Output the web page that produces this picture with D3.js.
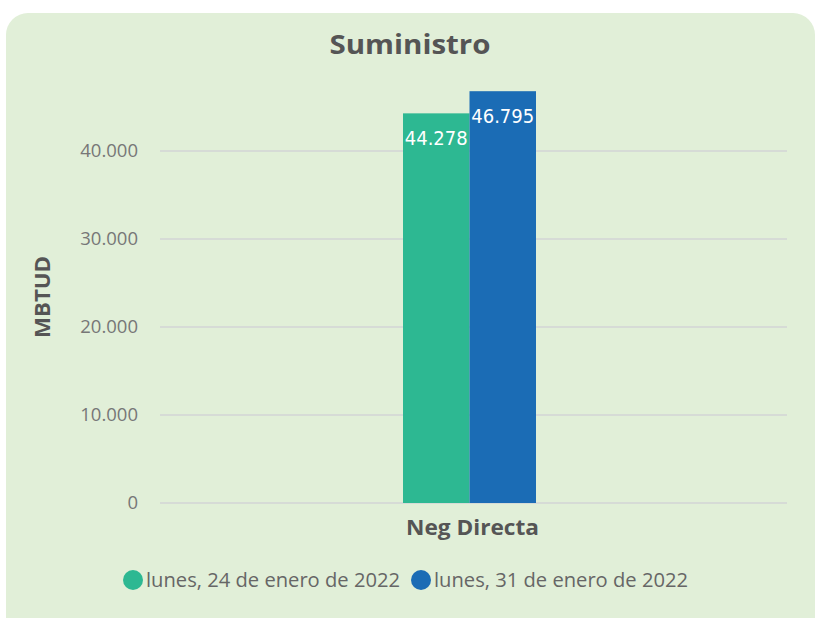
<!DOCTYPE html>
<html>
<head>
<meta charset="utf-8">
<script src="https://cdn.jsdelivr.net/npm/d3@7"></script>
<style>
  html, body { margin: 0; padding: 0; background: #ffffff; }
  svg { display: block; font-family: "Open Sans", "Noto Sans", sans-serif; }
</style>
</head>
<body>
<div id="chart"></div>
<script>
// Suministro: Neg Directa, dos semanas (MBTUD)
const categories = ['Neg Directa'];
const seriesNames = ['lunes, 24 de enero de 2022', 'lunes, 31 de enero de 2022'];
const seriesColors = ['#2db892', '#1b6cb5'];
const values24 = [44278];
const values31 = [46795];
const yTicks = [0, 10000, 20000, 30000, 40000];

const width = 819, height = 618;
const margin = { left: 160, right: 32 };
const plotBottom = 503;
const fmt = d3.formatLocale({ decimal: ',', thousands: '.', grouping: [3], currency: ['', ''] }).format(',.0f');

const svg = d3.select('#chart').append('svg')
  .attr('width', width).attr('height', height);

// tarjeta de fondo
svg.append('rect')
  .attr('x', 6).attr('y', 13).attr('width', 809).attr('height', 630)
  .attr('rx', 22).attr('fill', '#e1efd8');

svg.append('text')
  .attr('x', 410).attr('y', 54).attr('text-anchor', 'middle')
  .attr('font-size', '26px').attr('font-weight', 700).attr('fill', '#555555')
  .attr('textLength', 161).attr('lengthAdjust', 'spacingAndGlyphs')
  .text('Suministro');

const y = d3.scaleLinear().domain([0, 40000]).range([plotBottom, 151]);
const x0 = d3.scaleBand().domain(categories).range([margin.left, width - margin.right]).padding(0);
const x1 = d3.scaleBand().domain(seriesNames).range([0, 133]);
const groupShift = 243;

// rejilla
svg.append('g').selectAll('line').data(yTicks).join('line')
  .attr('x1', margin.left).attr('x2', 787)
  .attr('y1', d => y(d)).attr('y2', d => y(d))
  .attr('stroke', '#d6dbd6').attr('stroke-width', 2);

svg.append('g').attr('transform', `translate(138,0)`)
  .call(d3.axisLeft(y).tickValues(yTicks).tickSize(0).tickPadding(0).tickFormat(fmt))
  .call(ax => ax.select('.domain').remove())
  .selectAll('text')
  .attr('font-size', '18.5px').attr('fill', '#777777')
  .attr('font-family', '"Open Sans", sans-serif');

svg.append('text')
  .attr('transform', 'translate(50,297) rotate(-90)')
  .attr('text-anchor', 'middle')
  .attr('font-size', '21px').attr('font-weight', 700).attr('fill', '#555555')
  .attr('textLength', 82).attr('lengthAdjust', 'spacingAndGlyphs')
  .text('MBTUD');

const rows = categories.map((c, i) => ({ cat: c, vals: [values24[i], values31[i]] }));

const groups = svg.append('g').selectAll('g').data(rows).join('g')
  .attr('transform', d => `translate(${x0(d.cat) + groupShift},0)`);

const bars = groups.selectAll('g.bar').data(d => d.vals.map((v, j) => ({ v, s: seriesNames[j], c: seriesColors[j] })))
  .join('g').attr('class', 'bar');

bars.append('rect')
  .attr('x', d => x1(d.s)).attr('width', x1.bandwidth())
  .attr('y', d => y(d.v)).attr('height', d => plotBottom - y(d.v))
  .attr('fill', d => d.c);

bars.append('text')
  .attr('x', d => x1(d.s) + x1.bandwidth() / 2)
  .attr('y', d => y(d.v) + 32)
  .attr('text-anchor', 'middle')
  .attr('font-family', '"DejaVu Sans Condensed", "DejaVu Sans", sans-serif')
  .attr('font-stretch', 'condensed')
  .attr('font-size', '20px').attr('fill', '#ffffff')
  .attr('textLength', 63).attr('lengthAdjust', 'spacingAndGlyphs')
  .text(d => fmt(d.v));

groups.append('text')
  .attr('x', x1.range()[1] / 2 + 3).attr('y', 535)
  .attr('text-anchor', 'middle')
  .attr('font-size', '21px').attr('font-weight', 700).attr('fill', '#555555')
  .attr('textLength', 133).attr('lengthAdjust', 'spacingAndGlyphs')
  .text(d => d.cat);

// leyenda
const legendX = [123, 411];
const legend = svg.append('g').selectAll('g').data(seriesNames).join('g')
  .attr('transform', (d, i) => `translate(${legendX[i]},580)`);
legend.append('circle').attr('cx', 10).attr('cy', 0).attr('r', 10)
  .attr('fill', (d, i) => seriesColors[i]);
legend.append('text').attr('x', 23).attr('y', 7)
  .attr('font-size', '19.5px').attr('fill', '#666666')
  .attr('textLength', 254).attr('lengthAdjust', 'spacingAndGlyphs')
  .text(d => d);
</script>
</body>
</html>
